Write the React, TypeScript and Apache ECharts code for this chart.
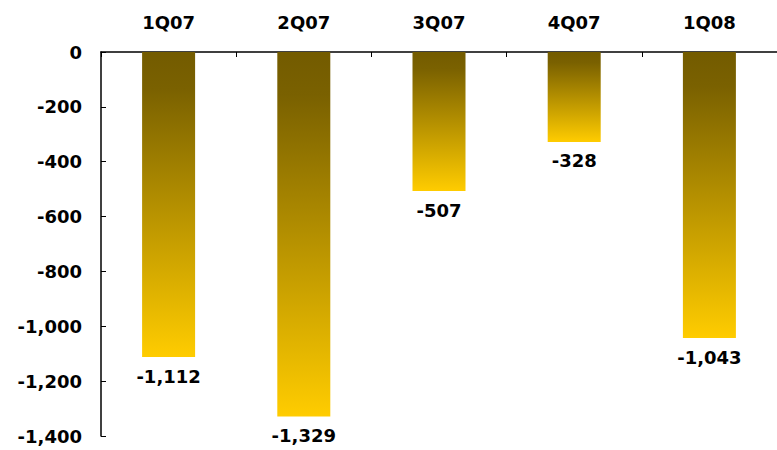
import React, { useEffect, useRef } from "react";
import * as echarts from "echarts";

const categories = ["1Q07", "2Q07", "3Q07", "4Q07", "1Q08"];
const values = [-1112, -1329, -507, -328, -1043];
const yTicks = [0, -200, -400, -600, -800, -1000, -1200, -1400];

const fmt = (v: number) => {
  const s = Math.abs(v).toString().replace(/\B(?=(\d{3})+(?!\d))/g, ",");
  return (v < 0 ? "-" : "") + s;
};

export default function App() {
  const ref = useRef<HTMLDivElement>(null);
  useEffect(() => {
    if (!ref.current) return;
    const chart = echarts.init(ref.current, undefined, { renderer: "svg" });
    const font = "Verdana, 'DejaVu Sans', sans-serif";
    chart.setOption({
      animation: false,
      grid: { left: 101, right: 0, top: 52, bottom: 14, containLabel: false },
      xAxis: {
        type: "category",
        data: categories,
        position: "top",
        axisLine: { show: true, lineStyle: { color: "#000", width: 1.5 } },
        axisTick: { show: true, inside: true, length: 5, lineStyle: { color: "#000" } },
        axisLabel: {
          color: "#000",
          fontWeight: "bold",
          fontSize: 18,
          fontFamily: font,
          margin: 21,
        },
      },
      yAxis: {
        type: "value",
        min: yTicks[yTicks.length - 1],
        max: yTicks[0],
        interval: 200,
        splitLine: { show: false },
        axisLine: { show: true, lineStyle: { color: "#000", width: 1.5 } },
        axisTick: { show: true, inside: true, length: 5, lineStyle: { color: "#000" } },
        axisLabel: {
          color: "#000",
          fontWeight: "bold",
          fontSize: 18,
          fontFamily: font,
          margin: 19,
          formatter: (v: number) => fmt(v),
        },
      },
      series: [
        {
          type: "bar",
          data: values,
          barWidth: 53,
          itemStyle: {
            color: new echarts.graphic.LinearGradient(0, 0, 0, 1, [
              { offset: 0, color: "#735b00" },
              { offset: 0.12, color: "#7a6100" },
              { offset: 1, color: "#ffcc00" },
            ]),
          },
          label: {
            show: true,
            position: "bottom",
            distance: 10,
            color: "#000",
            fontWeight: "bold",
            fontSize: 18,
            fontFamily: font,
            formatter: (p: any) => fmt(p.value),
          },
        },
      ],
    });
    return () => chart.dispose();
  }, []);
  return <div ref={ref} style={{ width: 777, height: 450, position: "absolute", left: 0, top: 0 }} />;
}
